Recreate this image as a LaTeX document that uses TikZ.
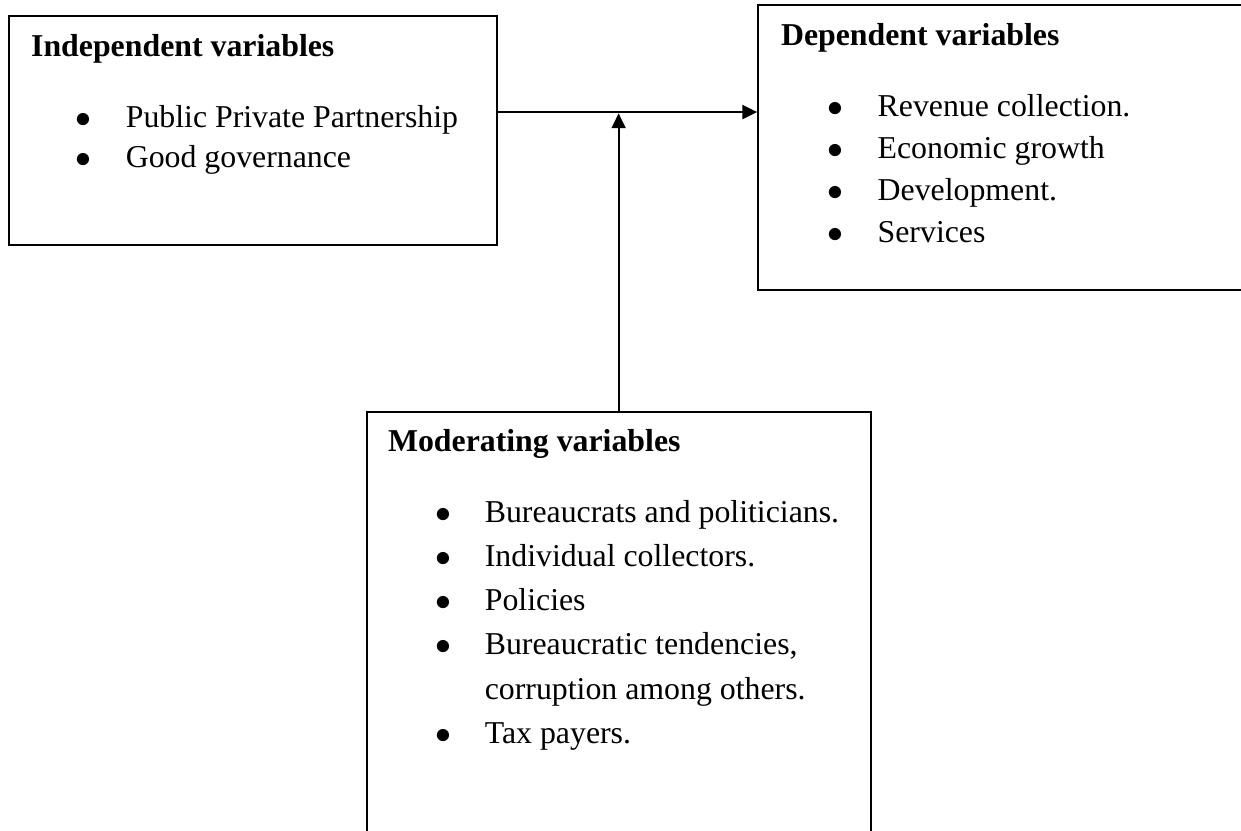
\documentclass[tikz,border=0pt]{standalone}
\usepackage{fontspec}
\setmainfont{Liberation Serif}
\usetikzlibrary{arrows.meta}

\tikzset{
  varbox/.style={draw, line width=0.75pt, inner sep=0pt},
  heading/.style={anchor=base west, inner sep=0pt, font=\fontsize{12}{14.4}\selectfont\bfseries},
  itemlist/.style={anchor=base west, inner sep=0pt, font=\fontsize{12}{14.4}\selectfont},
}
% bullet list as a two column table
\newcommand{\bulletlist}[2]{%
  \renewcommand{\arraystretch}{#1}%
  \begin{tabular}[t]{@{}l@{\hspace{12.8pt}}l@{}}#2\end{tabular}}

\begin{document}
\begin{tikzpicture}[-{Triangle[length=5.6pt, width=5.3pt]}, line width=0.75pt]
    \clip (0,0) rectangle (16.45,-11.015);

    % the three boxes
    \node[varbox, minimum width=6.47cm, minimum height=3.04cm] (indep) at (3.35,-1.73) {};
    \node[varbox, minimum width=6.52cm, minimum height=3.78cm] (dep) at (13.31,-1.955) {};
    \node[varbox, minimum width=6.68cm, minimum height=5.81cm] (moder) at (8.205,-8.364) {};

    \node[heading] (indeptitle) at (0.40,-0.755) {Independent variables};
    \node[itemlist] (indeplist) at (0.994,-1.69) {\bulletlist{1.047}{%
      $\bullet$ & Public Private Partnership\\
      $\bullet$ & Good governance}};

    \node[heading] (deptitle) at (10.34,-0.60) {Dependent variables};
    \node[itemlist] (deplist) at (10.96,-1.55) {\bulletlist{1.10}{%
      $\bullet$ & Revenue collection.\\
      $\bullet$ & Economic growth\\
      $\bullet$ & Development.\\
      $\bullet$ & Services}};

    \node[heading] (modertitle) at (5.13,-5.99) {Moderating variables};
    \node[itemlist] (moderlist) at (5.753,-6.92) {\bulletlist{1.16}{%
      $\bullet$ & Bureaucrats and politicians.\\
      $\bullet$ & Individual collectors.\\
      $\bullet$ & Policies\\
      $\bullet$ & Bureaucratic tendencies,\\
                & corruption among others.\\
      $\bullet$ & Tax payers.}};

    % arrows
    \coordinate (meet) at (8.20,-1.485);
    \draw (indep.east |- meet) -- (dep.west |- meet);
    \draw (moder.north -| meet) -- ([yshift=-0.5pt]meet);
\end{tikzpicture}
\end{document}
